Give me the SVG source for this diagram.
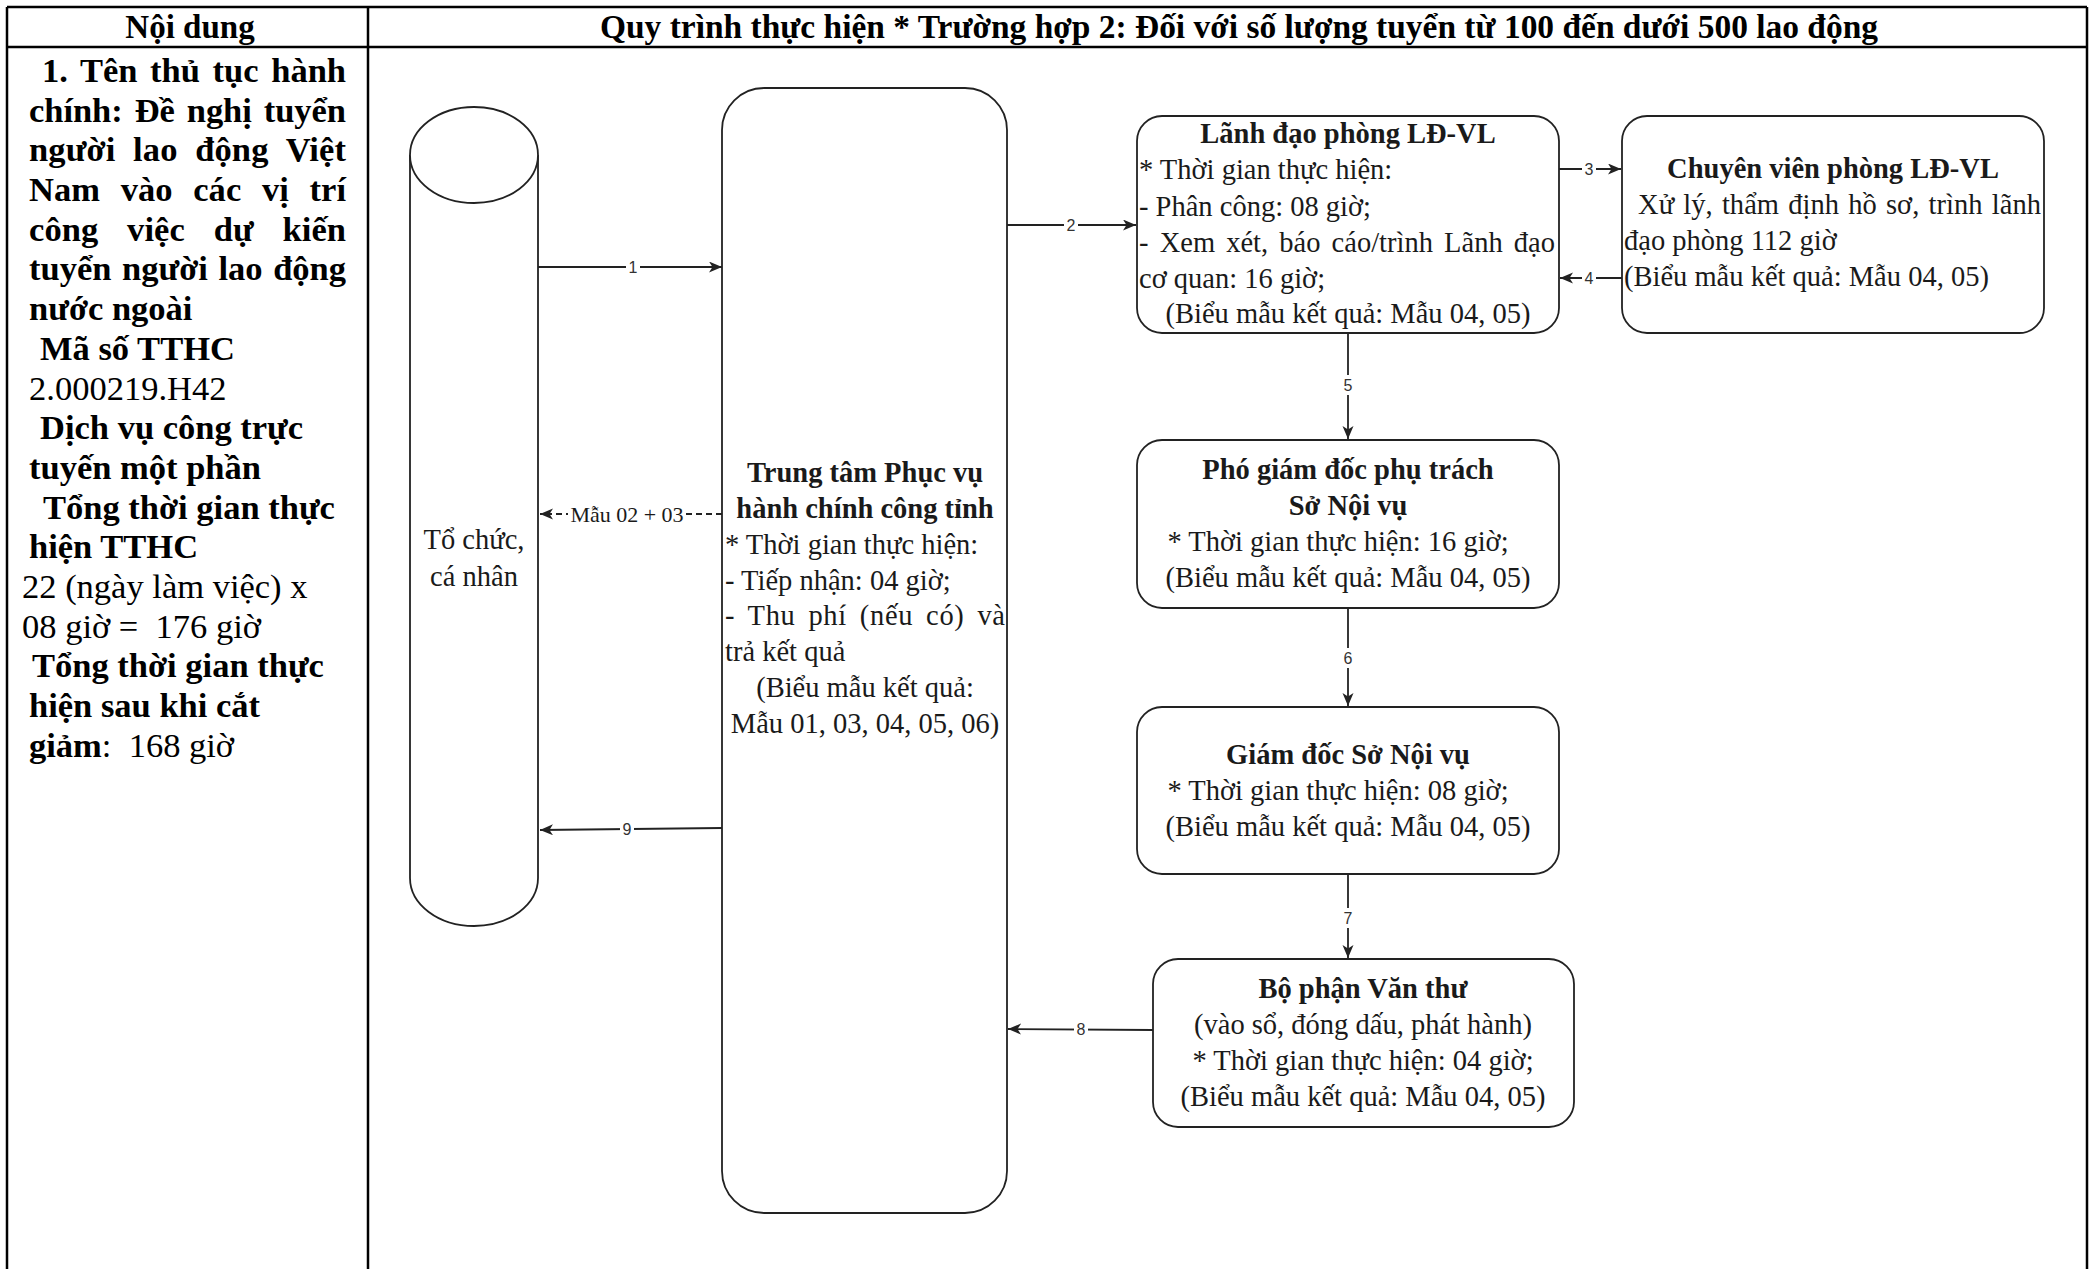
<svg xmlns="http://www.w3.org/2000/svg" width="2092" height="1269" viewBox="0 0 2092 1269">
<defs>
<style>
.tb{fill:none;stroke:#000;stroke-width:2.5}
.lb{font-family:"Liberation Serif","Times New Roman",serif;font-size:34.5px;font-weight:bold;fill:#000;white-space:pre}
.lr{font-family:"Liberation Serif","Times New Roman",serif;font-size:34.5px;font-weight:normal;fill:#000;white-space:pre}
.hd{font-family:"Liberation Serif","Times New Roman",serif;font-size:33px;font-weight:bold;fill:#000;white-space:pre}
.nb{fill:#fff;stroke:#222;stroke-width:1.8}
.nt{font-family:"Liberation Serif","Times New Roman",serif;font-size:28.5px;fill:#1a1a1a;white-space:pre}
.b{font-weight:bold}
.c{text-anchor:middle}
.ln{fill:none;stroke:#222;stroke-width:1.8}
.dash{stroke-dasharray:6 4}
.el{font-family:"Liberation Sans",Arial,sans-serif;font-size:16px;fill:#333;text-anchor:middle}
.lbg{fill:#fff}
</style>
<marker id="ah" markerUnits="userSpaceOnUse" markerWidth="15" markerHeight="12" refX="13" refY="5.5" orient="auto">
<path d="M0,0 L13,5.5 L0,11 L3.5,5.5 Z" fill="#222"/>
</marker>
</defs>
<rect width="2092" height="1269" fill="#fff"/>

<g id="table">
<line class="tb" x1="7" y1="7" x2="2087" y2="7"/>
<line class="tb" x1="7" y1="47" x2="2087" y2="47"/>
<line class="tb" x1="7" y1="7" x2="7" y2="1269"/>
<line class="tb" x1="368" y1="7" x2="368" y2="1269"/>
<line class="tb" x1="2087" y1="7" x2="2087" y2="1269"/>
<text class="hd c" x="190" y="38">Nội dung</text>
<text class="hd" x="600" y="38" textLength="1278" lengthAdjust="spacingAndGlyphs">Quy trình thực hiện * Trường hợp 2: Đối với số lượng tuyển từ 100 đến dưới 500 lao động</text>
</g>

<g id="left-column">
<text class="lb" x="42" y="82" word-spacing="4" textLength="304" lengthAdjust="spacing">1. Tên thủ tục hành</text>
<text class="lb" x="29" y="122" word-spacing="3.5" textLength="317" lengthAdjust="spacing">chính: Đề nghị tuyển</text>
<text class="lb" x="29" y="161" word-spacing="9" textLength="317" lengthAdjust="spacing">người lao động Việt</text>
<text class="lb" x="29" y="201" word-spacing="12" textLength="317" lengthAdjust="spacing">Nam vào các vị trí</text>
<text class="lb" x="29" y="241" word-spacing="20" textLength="317" lengthAdjust="spacing">công việc dự kiến</text>
<text class="lb" x="29" y="280" word-spacing="2" textLength="317" lengthAdjust="spacing">tuyển người lao động</text>
<text class="lb" x="29" y="320">nước ngoài</text>
<text class="lb" x="40" y="360">Mã số TTHC</text>
<text class="lr" x="29" y="400">2.000219.H42</text>
<text class="lb" x="40" y="439">Dịch vụ công trực</text>
<text class="lb" x="29" y="479">tuyến một phần</text>
<text class="lb" x="43" y="519">Tổng thời gian thực</text>
<text class="lb" x="29" y="558">hiện TTHC</text>
<text class="lr" x="22" y="598">22 (ngày làm việc) x</text>
<text class="lr" x="22" y="638">08 giờ =  176 giờ</text>
<text class="lb" x="32" y="677">Tổng thời gian thực</text>
<text class="lb" x="29" y="717">hiện sau khi cắt</text>
<text class="lb" x="29" y="757">giảm<tspan class="lr">:  168 giờ</tspan></text>
</g>

<g id="connectors">
<line class="ln" x1="538" y1="267" x2="722" y2="267" marker-end="url(#ah)"/>
<rect class="lbg" x="626" y="257" width="14" height="20"/>
<text class="el" x="633" y="273">1</text>

<line class="ln dash" x1="722" y1="514" x2="540" y2="514" marker-end="url(#ah)"/>
<rect class="lbg" x="568" y="502" width="118" height="24"/>
<text class="nt c" x="627" y="522" style="font-size:22px">Mẫu 02 + 03</text>

<line class="ln" x1="722" y1="828" x2="540" y2="830" marker-end="url(#ah)"/>
<rect class="lbg" x="620" y="819" width="14" height="20"/>
<text class="el" x="627" y="835">9</text>

<line class="ln" x1="1007" y1="225" x2="1136" y2="225" marker-end="url(#ah)"/>
<rect class="lbg" x="1064" y="215" width="14" height="20"/>
<text class="el" x="1071" y="231">2</text>

<line class="ln" x1="1559" y1="169" x2="1621" y2="169" marker-end="url(#ah)"/>
<rect class="lbg" x="1582" y="159" width="14" height="20"/>
<text class="el" x="1589" y="175">3</text>

<line class="ln" x1="1622" y1="278" x2="1560" y2="278" marker-end="url(#ah)"/>
<rect class="lbg" x="1582" y="268" width="14" height="20"/>
<text class="el" x="1589" y="284">4</text>

<line class="ln" x1="1348" y1="333" x2="1348" y2="439" marker-end="url(#ah)"/>
<rect class="lbg" x="1340" y="375" width="16" height="20"/>
<text class="el" x="1348" y="391">5</text>

<line class="ln" x1="1348" y1="608" x2="1348" y2="706" marker-end="url(#ah)"/>
<rect class="lbg" x="1340" y="648" width="16" height="20"/>
<text class="el" x="1348" y="664">6</text>

<line class="ln" x1="1348" y1="874" x2="1348" y2="958" marker-end="url(#ah)"/>
<rect class="lbg" x="1340" y="908" width="16" height="20"/>
<text class="el" x="1348" y="924">7</text>

<line class="ln" x1="1153" y1="1030" x2="1008" y2="1029" marker-end="url(#ah)"/>
<rect class="lbg" x="1074" y="1019" width="14" height="20"/>
<text class="el" x="1081" y="1035">8</text>
</g>

<g id="node-to-chuc">
<path class="nb" d="M410,155 L410,878 A64,48 0 0 0 538,878 L538,155"/>
<ellipse class="nb" cx="474" cy="155" rx="64" ry="48"/>
<text class="nt c" x="474" y="549">Tổ chức,</text>
<text class="nt c" x="474" y="586">cá nhân</text>
</g>

<g id="node-trung-tam">
<rect class="nb" x="722" y="88" width="285" height="1125" rx="42" ry="42"/>
<text class="nt b c" x="865" y="482">Trung tâm Phục vụ</text>
<text class="nt b c" x="865" y="518">hành chính công tỉnh</text>
<text class="nt" x="725" y="554">* Thời gian thực hiện:</text>
<text class="nt" x="725" y="590">- Tiếp nhận: 04 giờ;</text>
<text class="nt" x="725" y="625" textLength="280" lengthAdjust="spacing" word-spacing="5">- Thu phí (nếu có) và</text>
<text class="nt" x="725" y="661">trả kết quả</text>
<text class="nt c" x="865" y="697">(Biểu mẫu kết quả:</text>
<text class="nt c" x="865" y="733">Mẫu 01, 03, 04, 05, 06)</text>
</g>

<g id="node-lanh-dao">
<rect class="nb" x="1137" y="116" width="422" height="217" rx="25" ry="25"/>
<text class="nt b c" x="1348" y="143">Lãnh đạo phòng LĐ-VL</text>
<text class="nt" x="1139" y="179">* Thời gian thực hiện:</text>
<text class="nt" x="1139" y="216">- Phân công: 08 giờ;</text>
<text class="nt" x="1139" y="252" textLength="416" lengthAdjust="spacing" word-spacing="4">- Xem xét, báo cáo/trình Lãnh đạo</text>
<text class="nt" x="1139" y="288">cơ quan: 16 giờ;</text>
<text class="nt c" x="1348" y="323">(Biểu mẫu kết quả: Mẫu 04, 05)</text>
</g>

<g id="node-chuyen-vien">
<rect class="nb" x="1622" y="116" width="422" height="217" rx="25" ry="25"/>
<text class="nt b c" x="1833" y="178">Chuyên viên phòng LĐ-VL</text>
<text class="nt" x="1638" y="214" textLength="403" lengthAdjust="spacing" word-spacing="2">Xử lý, thẩm định hồ sơ, trình lãnh</text>
<text class="nt" x="1624" y="250">đạo phòng 112 giờ</text>
<text class="nt" x="1624" y="286">(Biểu mẫu kết quả: Mẫu 04, 05)</text>
</g>

<g id="node-pho-giam-doc">
<rect class="nb" x="1137" y="440" width="422" height="168" rx="25" ry="25"/>
<text class="nt b c" x="1348" y="479">Phó giám đốc phụ trách</text>
<text class="nt b c" x="1348" y="515">Sở Nội vụ</text>
<text class="nt c" x="1338" y="551">* Thời gian thực hiện: 16 giờ;</text>
<text class="nt c" x="1348" y="587">(Biểu mẫu kết quả: Mẫu 04, 05)</text>
</g>

<g id="node-giam-doc">
<rect class="nb" x="1137" y="707" width="422" height="167" rx="25" ry="25"/>
<text class="nt b c" x="1348" y="764">Giám đốc Sở Nội vụ</text>
<text class="nt c" x="1338" y="800">* Thời gian thực hiện: 08 giờ;</text>
<text class="nt c" x="1348" y="836">(Biểu mẫu kết quả: Mẫu 04, 05)</text>
</g>

<g id="node-van-thu">
<rect class="nb" x="1153" y="959" width="421" height="168" rx="25" ry="25"/>
<text class="nt b c" x="1363" y="998">Bộ phận Văn thư</text>
<text class="nt c" x="1363" y="1034">(vào sổ, đóng dấu, phát hành)</text>
<text class="nt c" x="1363" y="1070">* Thời gian thực hiện: 04 giờ;</text>
<text class="nt c" x="1363" y="1106">(Biểu mẫu kết quả: Mẫu 04, 05)</text>
</g>
</svg>
